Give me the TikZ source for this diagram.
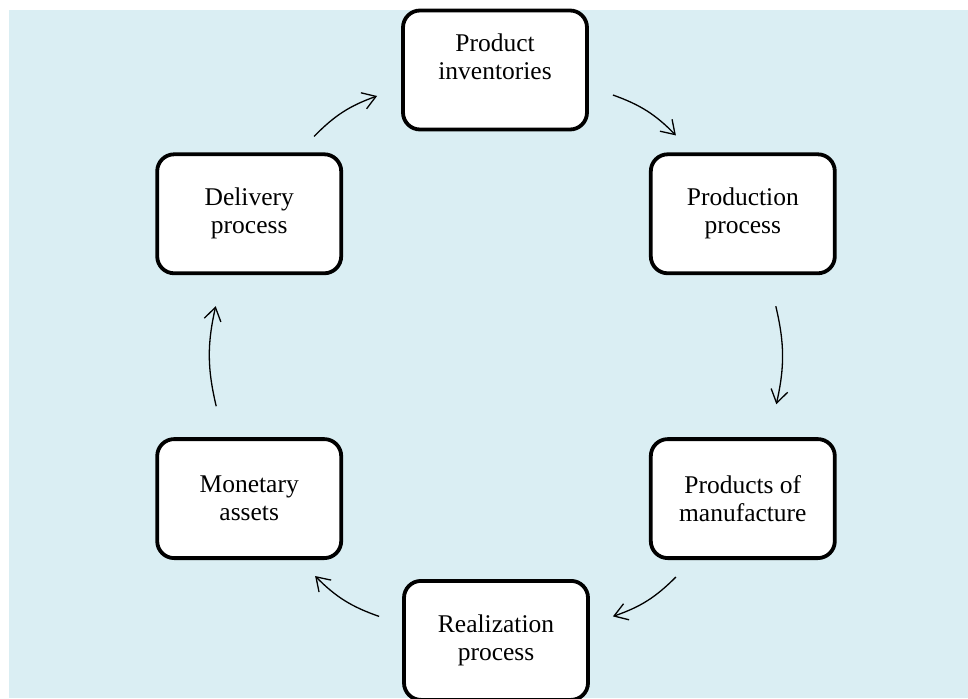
\documentclass[tikz,border=0pt]{standalone}
\usepackage{fontspec}
\setmainfont{Liberation Serif}
\usetikzlibrary{arrows.meta, positioning}
\definecolor{cycleBack}{RGB}{218, 238, 243}
\tikzset{
    % Base Block Style
    stage/.style={
        rectangle,
        rounded corners=17pt,
        minimum width=184pt,
        minimum height=119pt,
        text centered,
        align=center,
        font=\fontsize{25.5}{28}\selectfont,
        draw=black,
        line width=3.8pt,
        fill=white
    },
    % Arrow Style
    flow/.style={-{Straight Barb[length=13pt, width=17pt]}, line width=1.3pt, bend left=13}
}

\begin{document}
\begin{tikzpicture}[
    x=1pt, y=-1pt,
    node distance=162pt
]

    % --- Canvas ---
    \useasboundingbox (0,0) rectangle (968,698);
    \fill [cycleBack] (9,10) rectangle (968,698);

    % --- Stages (clockwise from the top) ---
    \node (inventories) [stage, text depth=26pt] at (495,70) {Product\\inventories};
    \node (production) [stage, below right=21pt and 60pt of inventories] {Production\\process};
    \node (manufacture) [stage, below=of production] {Products of\\manufacture};
    \node (realization) [stage, below left=19pt and 59pt of manufacture] {Realization\\process};
    \node (monetary) [stage, above left=19pt and 59pt of realization] {Monetary\\assets};
    \node (delivery) [stage, above=of monetary] {Delivery\\process};

    % --- Arrows (the cycle) ---
    \draw [flow] ([xshift=24pt, yshift=-25pt]inventories.east) to ([xshift=27pt, yshift=17pt]production.north west);
    \draw [flow] ([xshift=33pt, yshift=-31pt]production.south) to ([xshift=33.5pt, yshift=33pt]manufacture.north);
    \draw [flow] ([xshift=27pt, yshift=-17pt]manufacture.south west) to ([xshift=23pt, yshift=24pt]realization.east);
    \draw [flow] ([xshift=-23pt, yshift=24pt]realization.west) to ([xshift=-28pt, yshift=-16pt]monetary.south east);
    \draw [flow] ([xshift=-33pt, yshift=31pt]monetary.north) to ([xshift=-33.5pt, yshift=-31pt]delivery.south);
    \draw [flow] ([xshift=-29pt, yshift=16pt]delivery.north east) to ([xshift=-24pt, yshift=-26pt]inventories.west);

\end{tikzpicture}
\end{document}
